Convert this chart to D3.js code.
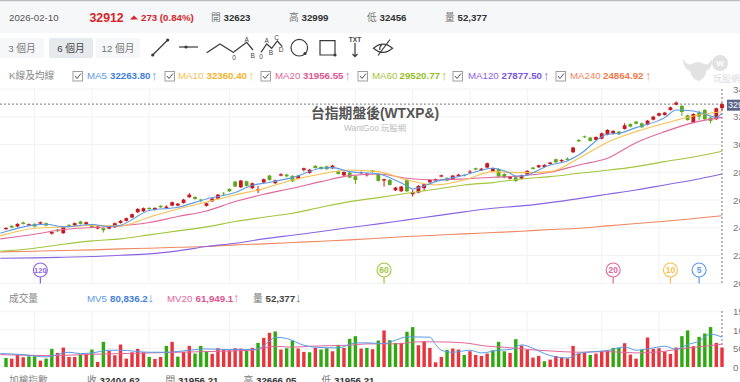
<!DOCTYPE html>
<html>
<head>
<meta charset="utf-8">
<script src="https://cdn.jsdelivr.net/npm/d3@7"></script>
<style>
html, body { margin: 0; padding: 0; background: #fff; overflow: hidden; }
svg { display: block; font-family: "Liberation Sans", "Noto Sans CJK TC", sans-serif; }
</style>
</head>
<body>
<svg id="chart" width="740" height="382"></svg>
<script>
// daily candles, oldest first
const priceOpen = [23900,24140,24090,24380,24180,24280,24300,24330,23580,23870,
  23610,24210,24180,24450,24260,24230,23940,23970,23940,24040,
  24350,24500,24740,25120,25190,25430,25290,25580,25430,25600,
  25600,25790,26200,26220,26030,25580,25910,26100,26460,26800,
  27330,26920,27350,26850,26680,27260,27760,27210,27760,27830,
  27740,27540,28170,27950,28460,28380,28430,28290,28070,27780,
  27980,27710,27930,27780,28120,27880,27400,27450,26700,26630,
  27450,26420,26540,26850,27280,27400,27690,27590,27500,27710,
  27810,27980,28290,28140,28340,28050,28240,27880,27540,27640,
  27540,27830,28340,28360,28380,28600,28940,28790,28980,29440,
  30330,30590,30500,30330,30420,30710,30780,30930,31120,31480,
  31650,31530,31430,31790,32080,32130,32490,32870,32780,32100,
  31580,32300,32490,31940,31820,32623];
const priceClose = [23990,24020,24280,24280,24260,24090,24400,24160,23700,23750,
  24040,24140,24330,24280,24400,24020,24090,23820,24110,24330,
  24500,24690,24980,25360,25410,25340,25430,25480,25530,25840,
  25740,26030,26390,26080,25960,25770,26100,26390,26420,26630,
  26970,27400,27020,27210,26780,27500,27450,27420,27860,27710,
  27350,27740,28290,28190,28310,28240,28220,28480,27880,28020,
  27620,27450,28020,27900,28020,27380,27500,27090,26900,26970,
  26630,26560,27020,27140,27450,27500,27780,27400,27760,27830,
  27740,28050,28190,28260,28650,28290,27690,27620,27690,27380,
  27780,28100,28240,28500,28530,28700,28720,28890,28890,29780,
  30230,30520,30260,30540,30810,31050,30980,30740,31380,31290,
  31500,31240,31720,32010,32250,32300,32680,33020,32340,31770,
  32200,32010,31820,31700,32610,32912];
const priceHigh = [24040,24190,24330,24450,24310,24330,24450,24380,23750,23920,
  24090,24260,24380,24500,24450,24280,24140,24020,24160,24380,
  24570,24740,25030,25410,25460,25480,25480,25630,25620,25890,
  25790,26080,26510,26270,26080,25820,26150,26440,26580,26850,
  27380,27450,27400,27260,27020,27550,27810,27470,27930,27900,
  27790,27790,28340,28240,28510,28430,28480,28530,28120,28070,
  28030,27760,28070,27950,28170,27930,27540,27500,26950,27020,
  27500,26730,27070,27190,27500,27550,27830,27640,27810,27880,
  27860,28170,28340,28310,28700,28340,28290,27930,27740,27740,
  27830,28150,28390,28550,28580,28750,28990,28940,29080,29830,
  30380,30640,30550,30590,30860,31100,31030,30980,31530,31530,
  31700,31580,31770,32060,32300,32350,32730,33110,32850,32150,
  32250,32440,32540,31990,32660,32999];
const priceLow = [23850,23970,24040,24230,24130,24040,24250,24110,23510,23700,
  23560,24090,24130,24230,24210,23970,23890,23660,23890,23990,
  24300,24450,24690,25070,25140,25290,25240,25430,25340,25550,
  25550,25740,26150,26030,25840,25530,25860,26050,26300,26580,
  26920,26870,26970,26800,26490,27210,27400,27160,27710,27640,
  27300,27490,28050,27900,28260,28190,28170,28240,27830,27730,
  27570,27160,27880,27690,27970,27330,26970,27040,26650,26580,
  26580,26250,26490,26660,27230,27350,27640,27350,27450,27660,
  27690,27930,28140,28090,28290,28000,27640,27570,27490,27300,
  27490,27780,28190,28310,28330,28550,28670,28740,28840,29390,
  30180,30470,30210,30280,30370,30660,30730,30690,31070,31240,
  31450,31190,31380,31740,32030,32080,32440,32820,32060,31720,
  31530,31770,31770,31530,31770,32456];

const volume = [24500,22700,33600,26400,29100,29100,17300,22700,49100,38200,
  52700,27300,27300,33600,36400,47300,13600,68200,43600,31800,
  60900,22700,40000,49100,40000,27300,21800,27300,57300,68200,
  28200,40900,57300,36400,57300,42700,35500,50900,47300,45500,
  50900,50000,44500,51800,65400,79100,92700,96400,47300,50900,
  71800,50000,40900,40000,51800,47300,50900,42700,60000,51800,
  76400,83600,50000,51800,48200,71800,99100,72700,65400,65400,
  95500,108200,59100,70000,51800,12700,27300,46400,50000,47300,
  32700,42700,32700,30000,36400,45500,68200,42700,38200,75400,
  58200,46400,25500,30000,15500,20000,30000,26400,23600,57300,
  36400,38200,32700,36400,43600,45500,51800,51800,64500,33600,
  22700,47300,80000,49100,50900,41800,35500,52700,83600,99100,
  56400,81800,90900,108200,65400,52377];
// bar colour on the volume panel does not always follow the candle, read separately (1 = red)
const volumeUp = [0,1,1,1,0,0,1,0,0,1,1,1,1,0,1,0,1,0,1,1,
  1,1,1,1,1,0,1,1,0,1,0,1,1,0,0,0,1,1,1,1,1,1,0,1,0,1,1,0,1,0,
  0,1,1,0,1,0,0,1,0,1,0,0,1,0,1,0,1,0,0,1,0,0,1,1,1,1,1,0,1,1,
  0,1,1,1,1,0,0,0,1,0,1,1,1,1,0,1,1,1,1,1,1,1,0,1,1,1,0,0,1,1,
  1,0,1,1,1,1,1,1,0,0,1,0,0,0,1,1];

// moving averages read every 5 sessions, the lines start just left of the first candle
const maDays = [-1,5,10,15,20,25,30,35,40,45,50,55,60,65,70,75,80,85,90,95,100,105,110,115,120,125];
const ma10 = [23416,23968,24064,24160,24136,24760,25360,25864,26368,26824,27448,27880,28168,28048,27448,27088,27448,28048,27976,28048,29008,30160,30928,31528,32056,32360];
const ma20 = [23200,23536,23872,24016,24136,24376,24808,25216,25888,26416,26848,27328,27760,27880,27568,27448,27520,27640,27736,28000,28528,29008,30136,30928,31576,31957];
const ma60 = [22312,22528,22816,23056,23200,23488,23776,24064,24448,24760,25048,25480,25888,26176,26488,26776,27088,27256,27520,27688,27928,28144,28408,28768,29104,29521];
const ma120 = [21808,21832,21880,21928,22024,22120,22336,22648,22888,23200,23464,23728,24016,24280,24568,24856,25144,25408,25576,25816,26104,26416,26728,27088,27448,27878];
const ma240 = [22264,22312,22360,22408,22480,22528,22600,22648,22768,22840,22936,23032,23128,23248,23368,23464,23560,23656,23752,23872,23968,24136,24304,24472,24664,24865];
// the 5 day line wiggles more so it gets its own days
const ma5Days = [-1,5,7,10,15,18,20,25,30,35,40,43,45,50,55,57,60,65,70,71,75,80,85,88,89,90,95,98,100,105,107,110,115,117,120,122,124,125];
const ma5 = [23608,24208,24256,24064,24232,24088,24184,25240,25480,26080,26536,27064,27208,27616,28288,28336,28048,27880,27016,26800,27328,27784,28288,27928,27736,27736,28528,28816,29248,30736,30808,31216,31936,32488,32416,32200,31960,32264];

const mv5Days = [-1,3,7,11,13,15,18,20,25,28,32,35,39,43,44,46,47,49,52,54,58,61,63,66,68,70,74,75,76,78,81,83,86,88,90,92,94,96,98,100,102,105,108,110,113,115,117,119,121,123,125];
const mv5 = [36400,33600,27300,40000,36400,38200,45500,45500,40000,40000,45500,49100,47300,47300,49100,70000,80900,77300,59100,53600,51800,65400,65400,63600,72700,81800,80900,60900,45500,40000,45500,38200,45500,47300,60000,50900,36400,27300,24500,36400,40900,44500,54500,45500,51800,56400,48200,60900,70000,89100,80836];
const mv20Days = [-1,8,15,25,35,43,47,50,53,60,63,68,72,75,80,84,87,92,95,100,105,110,115,118,122,125];
const mv20 = [33600,30900,34500,38200,41800,45500,56400,53600,56400,59100,62700,62700,68200,68200,65400,56400,53600,46400,43600,40000,41800,38200,42700,50000,56400,61949];

const priceTicks = [20000,22000,24000,26000,28000,30000,32000,34000];
const volumeTicks = [0,50000,100000,150000];
const monthDays = [5,15,25,39,51,61,71,81,91,104,114];
const maPeriods = [120,60,20,10,5];

const lastClose = 32912;
const colors = {ma5:'#5a9be6', ma10:'#f8c04e', ma20:'#e3679b', ma60:'#a2c63c', ma120:'#8b63e2', ma240:'#f0875f'};
const periodColors = {5:colors.ma5, 10:colors.ma10, 20:colors.ma20, 60:colors.ma60, 120:colors.ma120};

const svg = d3.select('#chart');
const plotRight = 722;
const textGrey = '#777';
const fontSize = 9.7;
const cjk = '"Liberation Sans","Noto Sans CJK TC",sans-serif';

const xScale = d3.scaleLinear().domain([0, priceOpen.length - 1]).range([6, plotRight]);
const yScale = d3.scaleLinear().domain([20000, 34000]).range([283.3, 89]);
const vScale = d3.scaleLinear().domain([0, 150000]).range([367, 311.7]);

function label(x, y, str, opt) {
    opt = opt || {};
    return svg.append('text')
        .attr('x', x).attr('y', y)
        .attr('font-size', opt.size || fontSize)
        .attr('font-weight', opt.bold ? 700 : 400)
        .attr('fill', opt.fill || textGrey)
        .attr('text-anchor', opt.anchor || 'start')
        .text(str);
}

// header strip
svg.append('rect').attr('width', 740).attr('height', 1.5).attr('fill', '#b9bcc0');
svg.append('rect').attr('y', 1.5).attr('width', 740).attr('height', 31.5).attr('fill', '#f6f7f9');
label(9, 21, '2026-02-10', {fill: '#555'});
label(89.5, 21.5, '32912', {size: 12.3, bold: true, fill: '#d8232a'});
svg.append('path').attr('d', 'M130 19.5 L134 15.5 L138 19.5 Z').attr('fill', '#d8232a');
label(141, 21, '273 (0.84%)', {bold: true, fill: '#d8232a'});
[['開', '32623', 211], ['高', '32999', 289], ['低', '32456', 367], ['量', '52,377', 445]].forEach(d => {
    label(d[2], 21, d[0], {fill: '#777'});
    label(d[2] + 12.5, 21, d[1], {bold: true, fill: '#333'});
});

// range buttons
[['3 個月', 0, '#f6f7f9', '#777'], ['6 個月', 49, '#e7eaed', '#444'], ['12 個月', 96, '#f6f7f9', '#777']].forEach(d => {
    svg.append('rect').attr('x', d[1]).attr('y', 38).attr('width', 44).attr('height', 20).attr('rx', 2).attr('fill', d[2]);
    label(d[1] + 22, 51.5, d[0], {fill: d[3], anchor: 'middle'});
});

// drawing tool icons
const iconInk = '#3a3a3a';
const icons = svg.append('g').attr('fill', 'none').attr('stroke', iconInk).attr('stroke-width', 1.2);
['M152.7 55 L167.7 40', 'M179 47 L198 47', 'M206.7 52.7 L220 44 L234 52.7', 'M234 51.7 L246.7 42.3 L253 50',
 'M261 52.3 L266.7 44 L271.7 48.3 L277.3 41 L282.3 46.7', 'M320 40.7 H335 V55 H320 Z', 'M355 43 V56.7 M352.5 54 L355 56.7 L357.5 54',
 'M373.5 48.3 Q383 40 392.5 48.3 Q383 56.5 373.5 48.3 Z M378 55.5 L390 39.5 M382 44.5 Q379 47 380 50'].forEach(d => {
    icons.append('path').attr('d', d);
});
icons.append('circle').attr('cx', 299.3).attr('cy', 47.7).attr('r', 8.3);
[[152.7,55],[167.7,40],[186,47],[305,53.5],[335,55]].forEach(d => {
    svg.append('circle').attr('cx', d[0]).attr('cy', d[1]).attr('r', 1.6).attr('fill', iconInk);
});
[['A',246.7,41.5],['B',252.7,57.5],['0',234,60],['A',266.7,43],['B',271,55],['C',276.7,40],['D',281,51.5],['0',261,58.5]].forEach(d => {
    label(d[1], d[2], d[0], {size: 6.5, fill: '#444', anchor: 'middle'});
});
label(355, 41.5, 'TXT', {size: 6.5, bold: true, fill: '#444', anchor: 'middle'});

// MA legend row
label(9, 79.3, 'K線及均線', {fill: '#888'});
const maLegend = [
    ['MA5', '32263.80', colors.ma5, '#3f80de', 73, 87, 110, 151],
    ['MA10', '32360.40', colors.ma10, '#f4b32a', 165, 178, 206.5, 248],
    ['MA20', '31956.55', colors.ma20, '#de5590', 261, 275, 303, 344.5],
    ['MA60', '29520.77', colors.ma60, '#93bf1f', 358, 372, 399.5, 441],
    ['MA120', '27877.50', colors.ma120, '#7a55e0', 453, 468, 501.5, 543],
    ['MA240', '24864.92', colors.ma240, '#f0784c', 556, 570, 603, 645]
];
maLegend.forEach(d => {
    svg.append('rect').attr('x', d[4]).attr('y', 71.5).attr('width', 9.5).attr('height', 9.5)
        .attr('fill', '#fff').attr('stroke', '#888').attr('stroke-width', 0.8);
    svg.append('path').attr('d', `M${d[4] + 2} 76 l2 2.5 l4 -5`).attr('fill', 'none').attr('stroke', '#555');
    label(d[5], 79.3, d[0], {fill: d[2]});
    label(d[6], 79.3, d[1], {bold: true, fill: d[3]});
    label(d[7], 79.5, '↑', {size: 13, fill: d[2]});
});

// watermark logo, top right
const logo = svg.append('g').attr('fill', '#e2e2e2');
logo.append('path').attr('d', 'M683 58 Q686 66 692 64 Q698 60 704 64 Q709 66 712 59 Q713 68 706 71 Q706 78 699 81 Q692 80 690 71 Q683 69 683 58 Z');
logo.append('circle').attr('cx', 720).attr('cy', 63).attr('r', 8);
label(720, 66, 'W', {size: 8, bold: true, fill: '#fff', anchor: 'middle'});
label(713, 81.5, '玩股網', {size: 9, fill: '#dcdcdc'});

// grids
const grid = svg.append('g').attr('stroke', '#f1f2f3').attr('stroke-width', 1);
grid.selectAll('.hp').data(priceTicks).join('line').attr('class', 'hp')
    .attr('x1', 0).attr('x2', plotRight).attr('y1', d => yScale(d)).attr('y2', d => yScale(d));
grid.selectAll('.hv').data(volumeTicks.slice(1)).join('line').attr('class', 'hv')
    .attr('x1', 0).attr('x2', plotRight).attr('y1', d => vScale(d)).attr('y2', d => vScale(d));
grid.selectAll('.vp').data(monthDays).join('line').attr('class', 'vp')
    .attr('x1', d => xScale(d)).attr('x2', d => xScale(d)).attr('y1', 89).attr('y2', 283);
grid.selectAll('.vv').data(monthDays).join('line').attr('class', 'vv')
    .attr('x1', d => xScale(d)).attr('x2', d => xScale(d)).attr('y1', 311).attr('y2', 367);

// chart title sits under the marks
label(375, 117.5, '台指期盤後(WTXP&)', {size: 13.8, bold: true, fill: '#555', anchor: 'middle'});
label(375, 131.3, 'WantGoo 玩股網', {size: 8.3, fill: '#bbb', anchor: 'middle'});

// last price crosshair
const dash = svg.append('g').attr('stroke', '#777').attr('stroke-dasharray', '2 2');
dash.append('line').attr('x1', 0).attr('x2', plotRight).attr('y1', yScale(lastClose)).attr('y2', yScale(lastClose));
dash.append('line').attr('x1', plotRight).attr('x2', plotRight).attr('y1', 89).attr('y2', 283);
dash.append('line').attr('x1', plotRight).attr('x2', plotRight).attr('y1', 311).attr('y2', 367);

// candles
const days = d3.range(priceOpen.length);
const candleRed = '#c8161d';
const candleGreen = '#5fa81c';
const candleColor = i => priceClose[i] >= priceOpen[i] ? candleRed : candleGreen;
const candles = svg.append('g');
candles.selectAll('line').data(days).join('line')
    .attr('x1', i => xScale(i)).attr('x2', i => xScale(i))
    .attr('y1', i => yScale(priceHigh[i])).attr('y2', i => yScale(priceLow[i]))
    .attr('stroke', candleColor).attr('stroke-width', 1);
candles.selectAll('rect').data(days).join('rect')
    .attr('x', i => xScale(i) - 1.9).attr('width', 3.8)
    .attr('y', i => yScale(Math.max(priceOpen[i], priceClose[i])))
    .attr('height', i => Math.abs(yScale(priceOpen[i]) - yScale(priceClose[i])))
    .attr('fill', candleColor);

// moving averages
function maLine(xs, ys, scale) {
    return d3.line().x((d, i) => xScale(xs[i])).y(d => scale(d)).curve(d3.curveMonotoneX)(ys);
}
[[maDays, ma240, colors.ma240], [maDays, ma120, colors.ma120], [maDays, ma60, colors.ma60],
 [maDays, ma20, colors.ma20], [maDays, ma10, colors.ma10], [ma5Days, ma5, colors.ma5]].forEach(d => {
    svg.append('path').attr('d', maLine(d[0], d[1], yScale))
        .attr('fill', 'none').attr('stroke', d[2]).attr('stroke-width', 1.1);
});

// period pins
const pins = svg.append('g').selectAll('g').data(maPeriods).join('g')
    .attr('transform', d => `translate(${xScale(priceOpen.length - d)},0)`);
pins.append('line').attr('y1', 277).attr('y2', 283.5).attr('stroke', d => periodColors[d]).attr('stroke-width', 1.2);
pins.append('circle').attr('cy', 270).attr('r', 7).attr('fill', '#fff').attr('stroke', d => periodColors[d]).attr('stroke-width', 1.1);
pins.append('text').attr('y', 273).attr('text-anchor', 'middle').attr('font-size', d => d > 99 ? 7.5 : 8.5)
    .attr('font-weight', 700).attr('fill', d => periodColors[d]).text(d => d);

// price axis, labels run off the page like the original
const yAxis = d3.axisRight(yScale).tickValues(priceTicks).tickSize(0).tickFormat(d3.format('d'));
svg.append('g').attr('transform', 'translate(733,0)').call(yAxis)
    .call(g => g.select('.domain').remove())
    .call(g => g.selectAll('text').attr('x', 0).attr('fill', '#777').attr('font-size', fontSize).attr('font-family', cjk));

// last price tag
svg.append('rect').attr('x', 727).attr('y', 99.7).attr('width', 13).attr('height', 11).attr('fill', '#5a6488');
label(728, 108.3, '32912', {size: 9, fill: '#fff'});

// volume panel
label(9, 301.7, '成交量', {fill: '#888'});
label(87, 301.7, 'MV5', {fill: colors.ma5});
label(110, 301.7, '80,836.2', {bold: true, fill: '#3f80de'});
label(147.5, 302, '↓', {size: 13, fill: colors.ma5});
label(167, 301.7, 'MV20', {fill: colors.ma20});
label(195.5, 301.7, '61,949.1', {bold: true, fill: '#de5590'});
label(233, 302, '↑', {size: 13, fill: colors.ma20});
label(253, 301.7, '量', {fill: '#777'});
label(265.5, 301.7, '52,377', {bold: true, fill: '#444'});
label(295, 302, '↓', {size: 13, fill: '#777'});

svg.append('g').selectAll('rect').data(days).join('rect')
    .attr('x', i => xScale(i) - 1.7).attr('width', 3.4)
    .attr('y', i => vScale(volume[i]))
    .attr('height', i => vScale(0) - vScale(volume[i]))
    .attr('fill', i => volumeUp[i] ? '#e8343c' : '#2fa90f');

svg.append('path').attr('d', maLine(mv20Days, mv20, vScale)).attr('fill', 'none').attr('stroke', colors.ma20).attr('stroke-width', 1);
svg.append('path').attr('d', maLine(mv5Days, mv5, vScale)).attr('fill', 'none').attr('stroke', colors.ma5).attr('stroke-width', 1);

const vAxis = d3.axisRight(vScale).tickValues(volumeTicks).tickSize(0).tickFormat(d3.format('d'));
svg.append('g').attr('transform', 'translate(733,0)').call(vAxis)
    .call(g => g.select('.domain').remove())
    .call(g => g.selectAll('text').attr('x', 0).attr('fill', '#777').attr('font-size', fontSize).attr('font-family', cjk));

// next panel header, cut by the window
label(9, 384, '加權指數', {fill: '#888'});
[['收', '32404.62', 87], ['開', '31956.21', 165.5], ['高', '32666.05', 243.5], ['低', '31956.21', 321.5]].forEach(d => {
    label(d[2], 384, d[0], {fill: '#777'});
    label(d[2] + 12.5, 384, d[1], {bold: true, fill: '#333'});
});
</script>
</body>
</html>
